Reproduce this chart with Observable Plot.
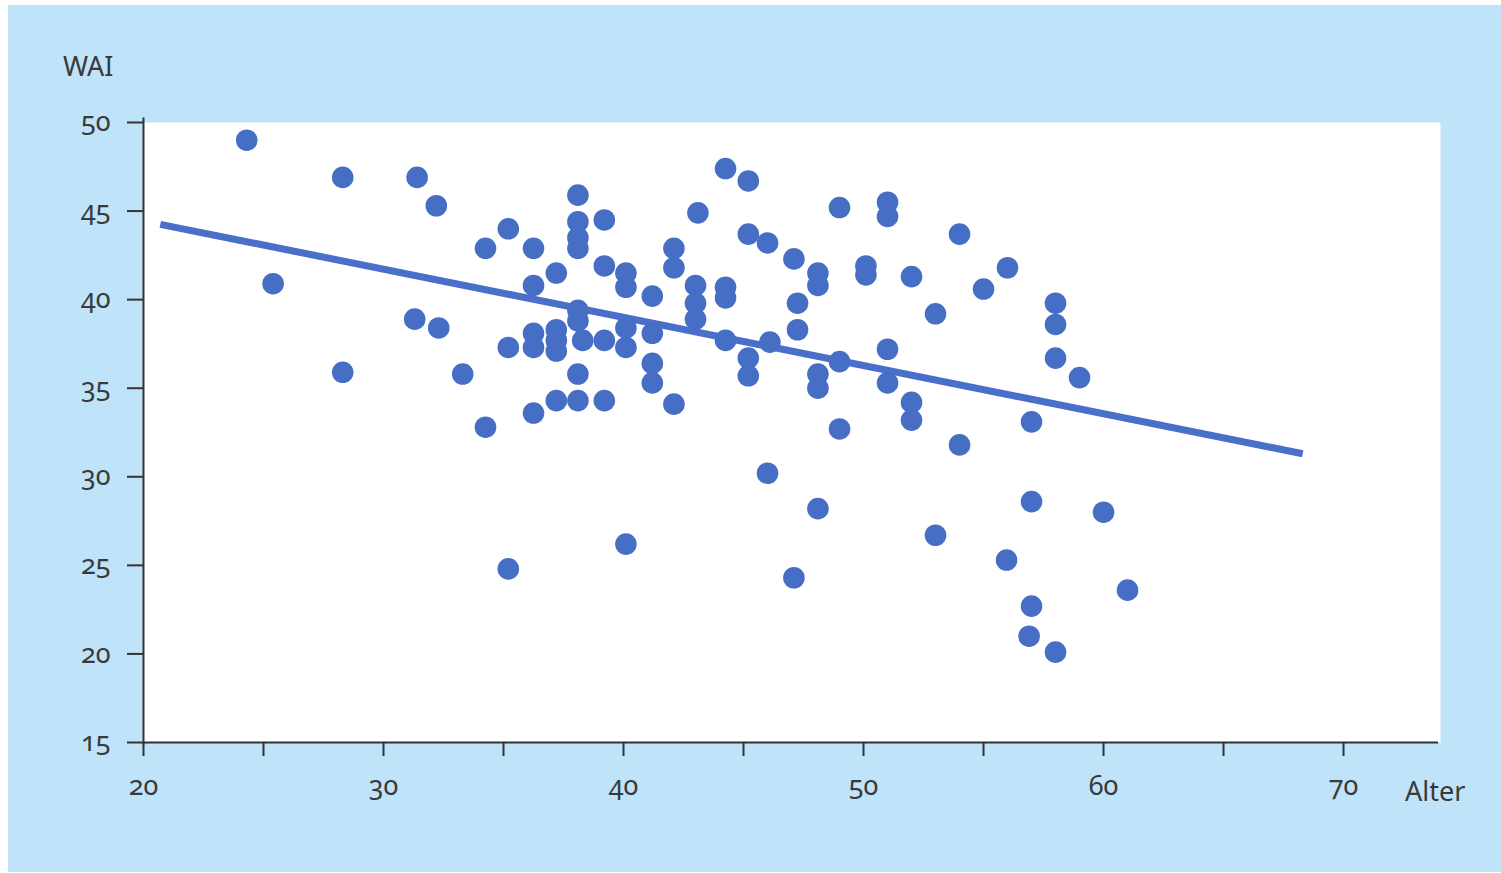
<!DOCTYPE html>
<html>
<head>
<meta charset="utf-8">
<script src="https://cdn.jsdelivr.net/npm/d3@7"></script>
<script src="https://cdn.jsdelivr.net/npm/@observablehq/plot@0.6"></script>
<style>
  html, body { margin: 0; padding: 0; }
  body { width: 1501px; height: 873px; position: relative; overflow: hidden; background: #ffffff; font-family: "Noto Sans", sans-serif; }
  #bg { position: absolute; left: 8px; top: 5px; width: 1493px; height: 867px; background: #bfe4f9; }
  #chart { position: absolute; left: 0; top: 0; }
  #chart svg text { font-variant-numeric: oldstyle-nums; font-feature-settings: "onum" 1; }
  .lbl { position: absolute; color: #3a3a3a; font-size: 27px; line-height: 27px; font-family: "Noto Sans", sans-serif; }
</style>
</head>
<body>
<div id="bg"></div>
<div id="chart"></div>
<div class="lbl" style="left:63px; top:52px;">WAI</div>
<div class="lbl" style="left:1405px; top:777px;">Alter</div>
<script>
// Age (Alter) of each respondent
const age = [
  24.3, 25.4, 28.3, 28.3, 31.4, 31.3, 32.2, 32.3, 33.3, 34.25, 34.25,
  35.2, 35.2, 35.2,
  36.25, 36.25, 36.25, 36.25, 36.25,
  37.2, 37.2, 37.2, 37.2, 37.2,
  38.1, 38.1, 38.1, 38.1, 38.1, 38.1, 38.3, 38.1, 38.1,
  39.2, 39.2, 39.2, 39.2,
  40.1, 40.1, 40.1, 40.1, 40.1,
  41.2, 41.2, 41.2, 41.2,
  42.1, 42.1, 42.1,
  43.1, 43.0, 43.0, 43.0,
  44.25, 44.25, 44.25, 44.25,
  45.2, 45.2, 45.2, 45.2,
  46.0, 46.1, 46.0,
  47.1, 47.25, 47.25, 47.1,
  48.1, 48.1, 48.1, 48.1, 48.1,
  49.0, 49.0, 49.0,
  50.1, 50.1,
  51.0, 51.0, 51.0, 51.0,
  52.0, 52.0, 52.0,
  53.0, 53.0,
  54.0, 54.0,
  55.0,
  56.0, 55.96,
  57.0, 57.0, 57.0, 56.9,
  58.0, 58.0, 58.0, 58.0,
  59.0, 60.0, 61.0
];
// Work Ability Index (WAI) of each respondent
const wai = [
  49.0, 40.9, 46.9, 35.9, 46.9, 38.9, 45.3, 38.4, 35.8, 42.9, 32.8,
  44.0, 37.3, 24.8,
  42.9, 40.8, 38.1, 37.3, 33.6,
  41.5, 38.3, 37.7, 37.1, 34.3,
  45.9, 44.4, 43.5, 42.9, 39.4, 38.8, 37.7, 35.8, 34.3,
  44.5, 41.9, 37.7, 34.3,
  41.5, 40.7, 38.4, 37.3, 26.2,
  40.2, 38.1, 36.4, 35.3,
  42.9, 41.8, 34.1,
  44.9, 40.8, 39.8, 38.9,
  47.4, 40.7, 40.1, 37.7,
  46.7, 43.7, 36.7, 35.7,
  43.2, 37.6, 30.2,
  42.3, 39.8, 38.3, 24.3,
  41.5, 40.8, 35.8, 35.0, 28.2,
  45.2, 36.5, 32.7,
  41.9, 41.4,
  45.5, 44.7, 37.2, 35.3,
  41.3, 34.2, 33.2,
  39.2, 26.7,
  43.7, 31.8,
  40.6,
  41.8, 25.3,
  33.1, 28.6, 22.7, 21.0,
  39.8, 38.6, 36.7, 20.1,
  35.6, 28.0, 23.6
];
// Regression line end points
const fitAge = [20.7, 68.3];
const fitWai = [44.25, 31.3];
// Axis ticks
const xTicks = [20, 25, 30, 35, 40, 45, 50, 55, 60, 65, 70];
const xLabels = [20, 30, 40, 50, 60, 70];
const yTicks = [15, 20, 25, 30, 35, 40, 45, 50];

const points = age.map((a, i) => ({ age: a, wai: wai[i] }));
const fit = fitAge.map((a, i) => ({ age: a, wai: fitWai[i] }));

const axisColor = "#333333";
const blue = "#466ec4";

const chart = Plot.plot({
  width: 1501,
  height: 873,
  marginLeft: 143,
  marginRight: 61,
  marginTop: 122,
  marginBottom: 131,
  style: { background: "transparent", fontFamily: "Noto Sans", fontSize: "27px", color: "#3a3a3a", overflow: "visible" },
  x: { domain: [20, 74.04] },
  y: { domain: [15, 50] },
  marks: [
    Plot.frame({ fill: "white", stroke: null }),
    Plot.axisY({ ticks: yTicks, tickSize: 16, tickPadding: 17, label: null, stroke: axisColor, strokeWidth: 2, fontSize: 27 }),
    Plot.axisX({ ticks: xTicks, tickSize: 14, tickPadding: 19, label: null, stroke: axisColor, strokeWidth: 2, fontSize: 27,
      tickFormat: d => xLabels.includes(d) ? String(d) : "" }),
    Plot.ruleX([20], { y1: 14.85, y2: 50.25, stroke: axisColor, strokeWidth: 2 }),
    Plot.ruleY([15], { x1: 20, x2: 73.96, stroke: axisColor, strokeWidth: 2 }),
    Plot.line(fit, { x: "age", y: "wai", stroke: "#4a6fca", strokeWidth: 7, strokeLinecap: "butt" }),
    Plot.dot(points, { x: "age", y: "wai", r: 10.8, fill: blue, stroke: null })
  ]
});
document.getElementById("chart").appendChild(chart);
</script>
</body>
</html>
